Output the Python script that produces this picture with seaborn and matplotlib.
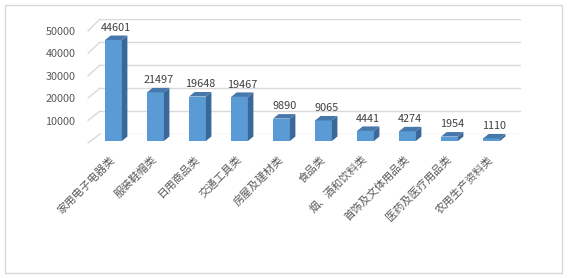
import matplotlib
matplotlib.use("Agg")
import matplotlib.pyplot as plt
import seaborn as sns
import pandas as pd
from matplotlib.patches import Polygon, Rectangle
from matplotlib.lines import Line2D

categories = ["家用电子电器类", "服装鞋帽类", "日用商品类", "交通工具类", "房屋及建材类",
              "食品类", "烟、酒和饮料类", "首饰及文体用品类", "医药及医疗用品类", "农用生产资料类"]
values = [44601, 21497, 19648, 19467, 9890, 9065, 4441, 4274, 1954, 1110]
y_ticks = [0, 10000, 20000, 30000, 40000, 50000]
y_labels = ["", "10000", "20000", "30000", "40000", "50000"]

sns.set_theme(style="white")
plt.rcParams['font.family'] = ['Noto Sans CJK SC', 'DejaVu Sans']

W, H = 571, 278
fig = plt.figure(figsize=(W / 100, H / 100), dpi=100)


def rect(left, top, width, height):
    return [left / W, (H - top - height) / H, width / W, height / H]


YMAX = 50000
grid_c = "#D9D9D9"

# back wall (gridlines)
back_ax = fig.add_axes(rect(100, 19, 421, 115))
back_ax.set_ylim(0, YMAX)
back_ax.set_xlim(0, 1)
back_ax.set_yticks(y_ticks)
back_ax.set_xticks([])
back_ax.set_yticklabels([])
back_ax.tick_params(left=False, length=0)
back_ax.grid(axis="y", color=grid_c, linewidth=1.0)
for s in back_ax.spines.values():
    s.set_visible(False)
back_ax.patch.set_alpha(0)

# front plane (tick labels)
front_ax = fig.add_axes(rect(88, 31, 1, 112))
front_ax.set_ylim(0, YMAX)
front_ax.set_yticks(y_ticks)
front_ax.set_yticklabels(y_labels, fontsize=7.8, color="#595959",
                         family=['Noto Sans CJK SC', 'DejaVu Sans'])
front_ax.tick_params(axis="y", length=0, pad=9)
front_ax.set_xticks([])
for s in front_ax.spines.values():
    s.set_visible(False)
front_ax.patch.set_alpha(0)

# bar plane
bar_ax = fig.add_axes(rect(92.5, 141 - 113.2, 420, 113.2))
df = pd.DataFrame({"cat": categories, "val": values})
sns.barplot(data=df, x="cat", y="val", ax=bar_ax, color="#5B9BD5",
            saturation=1, width=0.4, edgecolor="none")
bar_ax.set_ylim(0, YMAX)
bar_ax.set_xlim(-0.5, len(categories) - 0.5)
bar_ax.set_xlabel("")
bar_ax.set_ylabel("")
bar_ax.set_yticks([])
for s in bar_ax.spines.values():
    s.set_visible(False)
bar_ax.patch.set_alpha(0)

# slanted wall lines
fig.canvas.draw()
inv = fig.transFigure.inverted()
for v in y_ticks:
    pf = front_ax.transData.transform((0, v))
    pb = back_ax.transData.transform((0, v))
    p1 = inv.transform((front_ax.transAxes.transform((0, 0))[0], pf[1]))
    p2 = inv.transform((back_ax.transAxes.transform((0, 0))[0], pb[1]))
    fig.add_artist(Line2D([p1[0], p2[0]], [p1[1], p2[1]], color=grid_c,
                          linewidth=1.0, transform=fig.transFigure, zorder=0))

# depth offsets (pixels -> data)
dx = 5.5 / 42.0
dy = 4.5 * YMAX / 113.2
for patch, v in zip(bar_ax.patches, values):
    x0 = patch.get_x()
    x1 = x0 + patch.get_width()
    side = Polygon([(x1, 0), (x1 + dx, dy), (x1 + dx, v + dy), (x1, v)],
                   closed=True, facecolor="#3A6898", edgecolor="none", zorder=2)
    top = Polygon([(x0, v), (x1, v), (x1 + dx, v + dy), (x0 + dx, v + dy)],
                  closed=True, facecolor="#4778AC", edgecolor="none", zorder=2)
    bar_ax.add_patch(side)
    bar_ax.add_patch(top)
    side.set_clip_on(False)
    top.set_clip_on(False)
    bar_ax.annotate(f"{v}", ((x0 + x1) / 2 + dx / 2, v + dy), xytext=(0, 2),
                    textcoords="offset points", ha="center", va="bottom",
                    fontsize=7.8, color="#404040", annotation_clip=False,
                    family=['Noto Sans CJK SC', 'DejaVu Sans'])

bar_ax.set_xticks(range(len(categories)))
bar_ax.set_xticklabels(categories, rotation=45, ha="right", va="center",
                       rotation_mode="anchor", fontsize=7.8, color="#595959",
                       family=['Noto Sans CJK SC', 'DejaVu Sans'])
bar_ax.tick_params(axis="x", length=0, pad=12)

# outer frame
fig.add_artist(Rectangle((5 / W, (H - 273) / H), 557 / W, 268 / H, fill=False,
                         edgecolor=grid_c, linewidth=1.0, transform=fig.transFigure))

fig.savefig("out.png", dpi=100)
